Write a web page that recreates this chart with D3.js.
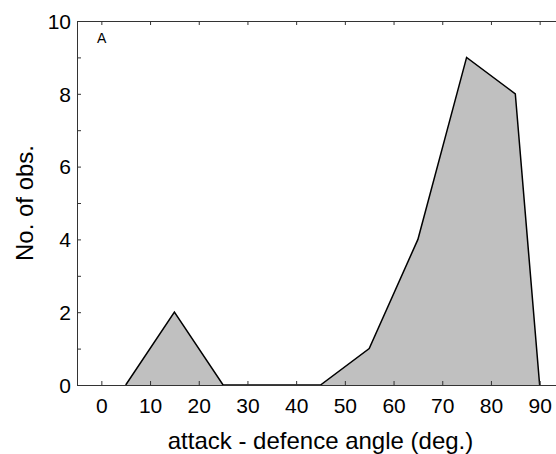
<!DOCTYPE html>
<html>
<head>
<meta charset="utf-8">
<script src="https://cdn.jsdelivr.net/npm/d3@7"></script>
<style>
  body { margin: 0; background: #fff; }
  svg { display: block; font-family: "Liberation Sans", Arial, sans-serif; }
</style>
</head>
<body>
<div class="graph"></div>
<script>
var width = 556;
var height = 454;

// angle bins (deg.) and counts
var angles = [5, 15, 25, 35, 45, 55, 65, 75, 85, 90];
var counts = [0, 2, 0, 0, 0, 1, 4, 9, 8, 0];
var xTicks = [0, 10, 20, 30, 40, 50, 60, 70, 80, 90];
var yTicks = [0, 1, 2, 3, 4, 5, 6, 7, 8, 9, 10];
var yLabels = [0, 2, 4, 6, 8, 10];

var data = angles.map(function (a, i) { return {angle: a, n: counts[i]}; });

var svg = d3.select(".graph").append("svg")
  .attr("width", width)
  .attr("height", height);

var x = d3.scaleLinear().domain([-5, 95]).range([77, 564]);
var y = d3.scaleLinear().domain([0, 10]).range([385, 21]);

var area = d3.area()
  .x(d => x(d.angle))
  .y0(y(0))
  .y1(d => y(d.n));

var line = d3.line()
  .x(d => x(d.angle))
  .y(d => y(d.n));

svg.append("path")
  .datum(data)
  .attr("fill", "#c0c0c0")
  .attr("stroke", "none")
  .attr("d", area);

svg.append("path")
  .datum(data)
  .attr("fill", "none")
  .attr("stroke", "#000")
  .attr("stroke-width", 1.5)
  .attr("stroke-linejoin", "miter")
  .attr("d", line);

// axes, ticks pointing inward
var xAxis = d3.axisBottom(x).tickValues(xTicks).tickSizeInner(-4).tickSizeOuter(0);
var xTop = d3.axisTop(x).tickValues(xTicks).tickSizeInner(-4).tickSizeOuter(0).tickFormat("");
var yAxis = d3.axisLeft(y).tickValues(yTicks).tickSizeInner(-4).tickSizeOuter(0)
  .tickFormat(d => yLabels.indexOf(d) >= 0 ? d : "");

var gx = svg.append("g").attr("transform", "translate(0," + y(0) + ")").call(xAxis);
var gt = svg.append("g").attr("transform", "translate(0," + y(10) + ")").call(xTop);
var gy = svg.append("g").attr("transform", "translate(" + x(-5) + ",0)").call(yAxis);

[gx, gt, gy].forEach(function (g) {
  g.select(".domain").attr("stroke", "#333").attr("stroke-width", 1);
  g.selectAll(".tick line").attr("stroke", "#333");
});

gx.selectAll(".tick text")
  .attr("y", 28)
  .attr("dy", 0)
  .attr("fill", "#000")
  .style("font-size", "21px")
  .style("font-family", "Liberation Sans, Arial, sans-serif");

gy.selectAll(".tick text")
  .attr("x", -6)
  .attr("dy", "0.35em")
  .attr("fill", "#000")
  .style("font-size", "21px")
  .style("font-family", "Liberation Sans, Arial, sans-serif");

svg.append("text")
  .attr("x", x(45))
  .attr("y", 449)
  .style("text-anchor", "middle")
  .style("font-size", "24px")
  .text("attack - defence angle (deg.)");

svg.append("text")
  .attr("transform", "rotate(-90)")
  .attr("x", -203)
  .attr("y", 33)
  .style("text-anchor", "middle")
  .style("font-size", "24px")
  .text("No. of obs.");

svg.append("text")
  .attr("x", 97)
  .attr("y", 43)
  .style("font-size", "14px")
  .text("A");
</script>
</body>
</html>
